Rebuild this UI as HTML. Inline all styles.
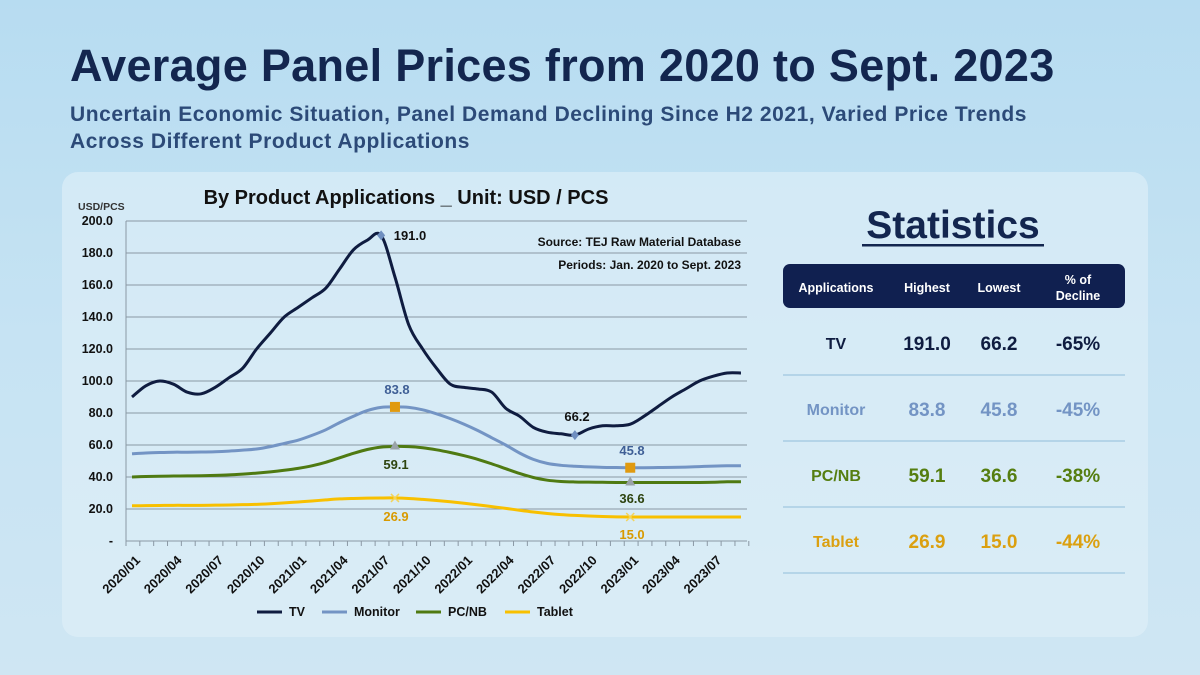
<!DOCTYPE html>
<html><head><meta charset="utf-8"><style>
body{margin:0;width:1200px;height:675px;overflow:hidden;font-family:"Liberation Sans",Arial,sans-serif;background:linear-gradient(180deg,#b7dcf1 0%,#c6e3f3 50%,#cfe6f3 100%);position:relative}
.t{position:absolute;left:70px;top:40px;font-size:45px;font-weight:bold;color:#13264f;letter-spacing:0.3px}
.s{position:absolute;left:70px;top:101px;font-size:21px;font-weight:bold;color:#2c4a78;line-height:27px;letter-spacing:0.55px}
.panel{position:absolute;left:62px;top:172px;width:1086px;height:465px;border-radius:16px;background:rgba(225,240,249,0.6)}
svg{position:absolute;left:0;top:0}
</style></head><body>
<div class="t">Average Panel Prices from 2020 to Sept. 2023</div>
<div class="s">Uncertain Economic Situation, Panel Demand Declining Since H2 2021, Varied Price Trends<br>Across Different Product Applications</div>
<div class="panel"></div>
<svg id="c" width="1200" height="675" font-family="Liberation Sans, Arial, sans-serif"></svg>
<script>
const tv=[90,97,100,98,93,92,96,102,108,120,130,140,146,152,158,170,182,188,191,165,135,120,108,98,96,95,93,83,78,71,68,67,66.2,70,72,72,73,78,84,90,95,100,103,105,105];
const mo=[54.5,55,55.3,55.5,55.5,55.6,55.8,56.2,56.8,57.5,59,61,63,66,69.5,74,78,81.5,83.5,83.8,83.5,82,79.5,76.5,73,69,64.5,60,55,51,48.5,47.3,46.7,46.3,46,45.9,45.8,45.8,45.9,46,46.2,46.5,46.8,47,47];
const pc=[40,40.3,40.5,40.6,40.7,40.8,41,41.3,41.8,42.4,43.2,44.2,45.4,47,49.2,52,54.8,57.2,58.7,59.1,59,58.3,57,55.3,53.3,51,48.2,45.2,42.2,39.7,38,37.2,36.9,36.8,36.7,36.6,36.6,36.6,36.6,36.6,36.6,36.6,36.7,37,37];
const tb=[22,22.1,22.2,22.3,22.3,22.3,22.4,22.5,22.7,22.9,23.3,23.8,24.4,25,25.7,26.3,26.6,26.8,26.9,26.9,26.6,26,25.3,24.5,23.6,22.6,21.5,20.4,19.2,18.1,17.2,16.5,16,15.6,15.3,15.1,15.0,15,15,15,15,15,15,15,15];
const X=i=>132+i*13.84, Y=v=>541-v*1.6;
function path(d){let p=d.map((v,i)=>[X(i),Y(v)]);let s=`M${p[0][0]},${p[0][1]}`;for(let i=0;i<p.length-1;i++){const a=p[i-1]||p[i],b=p[i],c=p[i+1],e=p[i+2]||c;s+=` C${b[0]+(c[0]-a[0])/6},${b[1]+(c[1]-a[1])/6} ${c[0]-(e[0]-b[0])/6},${c[1]-(e[1]-b[1])/6} ${c[0]},${c[1]}`;}return s;}
let h='';
h+=`<text x="78" y="210" font-size="10.5" font-weight="bold" fill="#333">USD/PCS</text>`;
h+=`<text x="406" y="204" font-size="20" font-weight="bold" fill="#111" text-anchor="middle">By Product Applications _ Unit: USD / PCS</text>`;
for(let k=0;k<=10;k++){const y=Y(k*20);h+=`<line x1="126" x2="747" y1="${y}" y2="${y}" stroke="#8a98a4" stroke-width="1"/>`;h+=`<text x="113" y="${y+4}" font-size="12.5" font-weight="bold" fill="#111" text-anchor="end">${k?(k*20).toFixed(1):'-'}</text>`;}
h+=`<line x1="126" x2="126" y1="221" y2="541" stroke="#8a98a4"/>`;
for(let i=0;i<=45;i++){const x=126+i*13.84;h+=`<line x1="${x}" x2="${x}" y1="541" y2="546" stroke="#8a98a4"/>`;}
const lab=['2020/01','2020/04','2020/07','2020/10','2021/01','2021/04','2021/07','2021/10','2022/01','2022/04','2022/07','2022/10','2023/01','2023/04','2023/07'];
lab.forEach((l,j)=>{const x=X(j*3)+9;h+=`<text x="${x}" y="561" font-size="13" font-weight="bold" fill="#111" text-anchor="end" transform="rotate(-45 ${x} 561)">${l}</text>`;});
h+=`<text x="741" y="246" font-size="12" font-weight="bold" fill="#111" text-anchor="end">Source: TEJ Raw Material Database</text>`;
h+=`<text x="741" y="269" font-size="12" font-weight="bold" fill="#111" text-anchor="end">Periods: Jan. 2020 to Sept. 2023</text>`;
h+=`<path d="${path(tb)}" fill="none" stroke="#f8c000" stroke-width="3"/>`;
h+=`<path d="${path(pc)}" fill="none" stroke="#4f7a12" stroke-width="3"/>`;
h+=`<path d="${path(mo)}" fill="none" stroke="#7394c4" stroke-width="3"/>`;
h+=`<path d="${path(tv)}" fill="none" stroke="#0f1c40" stroke-width="3"/>`;
const dm=(x,y)=>`<path d="M${x},${y-5}L${x+4},${y}L${x},${y+5}L${x-4},${y}Z" fill="#6f8fc0"/>`;
h+=dm(X(18),Y(191));h+=dm(X(32),Y(66.2));
h+=`<rect x="${X(19)-5}" y="${Y(83.8)-5}" width="10" height="10" fill="#e09a10"/><rect x="${X(36)-5}" y="${Y(45.8)-5}" width="10" height="10" fill="#e09a10"/>`;
const tr=(x,y)=>`<path d="M${x},${y-6}L${x+5},${y+3}L${x-5},${y+3}Z" fill="#9aa3a8"/>`;
h+=tr(X(19),Y(59.1));h+=tr(X(36),Y(36.6));
const cr=(x,y)=>`<path d="M${x-4},${y-4}L${x+4},${y+4}M${x+4},${y-4}L${x-4},${y+4}" stroke="#f3d45a" stroke-width="1.5"/>`;
h+=cr(X(19),Y(26.9));h+=cr(X(36),Y(15));
const tx=(x,y,t,c)=>`<text x="${x}" y="${y}" font-size="13" font-weight="bold" fill="${c}" text-anchor="middle">${t}</text>`;
h+=tx(410,240,'191.0','#111');h+=tx(397,394,'83.8','#3f5f96');h+=tx(396,469,'59.1','#2e4410');h+=tx(396,521,'26.9','#d89a00');
h+=tx(577,421,'66.2','#111');h+=tx(632,455,'45.8','#3f5f96');h+=tx(632,503,'36.6','#2e4410');h+=tx(632,539,'15.0','#d89a00');
const lg=[['TV','#0f1c40',257],['Monitor','#7394c4',322],['PC/NB','#4f7a12',416],['Tablet','#f8c000',505]];
lg.forEach(([n,c,x])=>{h+=`<line x1="${x}" x2="${x+25}" y1="612" y2="612" stroke="${c}" stroke-width="3"/><text x="${x+32}" y="616" font-size="12.5" font-weight="bold" fill="#111">${n}</text>`;});
h+=`<text x="953" y="238" font-size="39" font-weight="bold" fill="#13264f" text-anchor="middle">Statistics</text><rect x="862" y="244" width="182" height="2.5" fill="#13264f"/>`;
h+=`<rect x="783" y="264" width="342" height="44" rx="7" fill="#102050"/>`;
const hc=(x,y,t)=>`<text x="${x}" y="${y}" font-size="12.5" font-weight="bold" fill="#fff" text-anchor="middle">${t}</text>`;
h+=hc(836,292,'Applications')+hc(927,292,'Highest')+hc(999,292,'Lowest')+hc(1078,284,'% of')+hc(1078,300,'Decline');
const rows=[['TV','191.0','66.2','-65%','#0f1c40'],['Monitor','83.8','45.8','-45%','#7394c4'],['PC/NB','59.1','36.6','-38%','#557e10'],['Tablet','26.9','15.0','-44%','#dba010']];
rows.forEach((r,i)=>{const y=349+i*66;h+=`<text x="836" y="${y}" font-size="16" font-weight="bold" fill="${r[4]}" text-anchor="middle">${r[0]}</text>`;[[927,1],[999,2],[1078,3]].forEach(([x,k])=>{h+=`<text x="${x}" y="${y+1}" font-size="19" font-weight="bold" fill="${r[4]}" text-anchor="middle">${r[k]}</text>`;});h+=`<line x1="783" x2="1125" y1="${375+i*66}" y2="${375+i*66}" stroke="#a9cde3" stroke-width="1.5"/>`;});
document.getElementById('c').innerHTML=h;
</script>
</body></html>
